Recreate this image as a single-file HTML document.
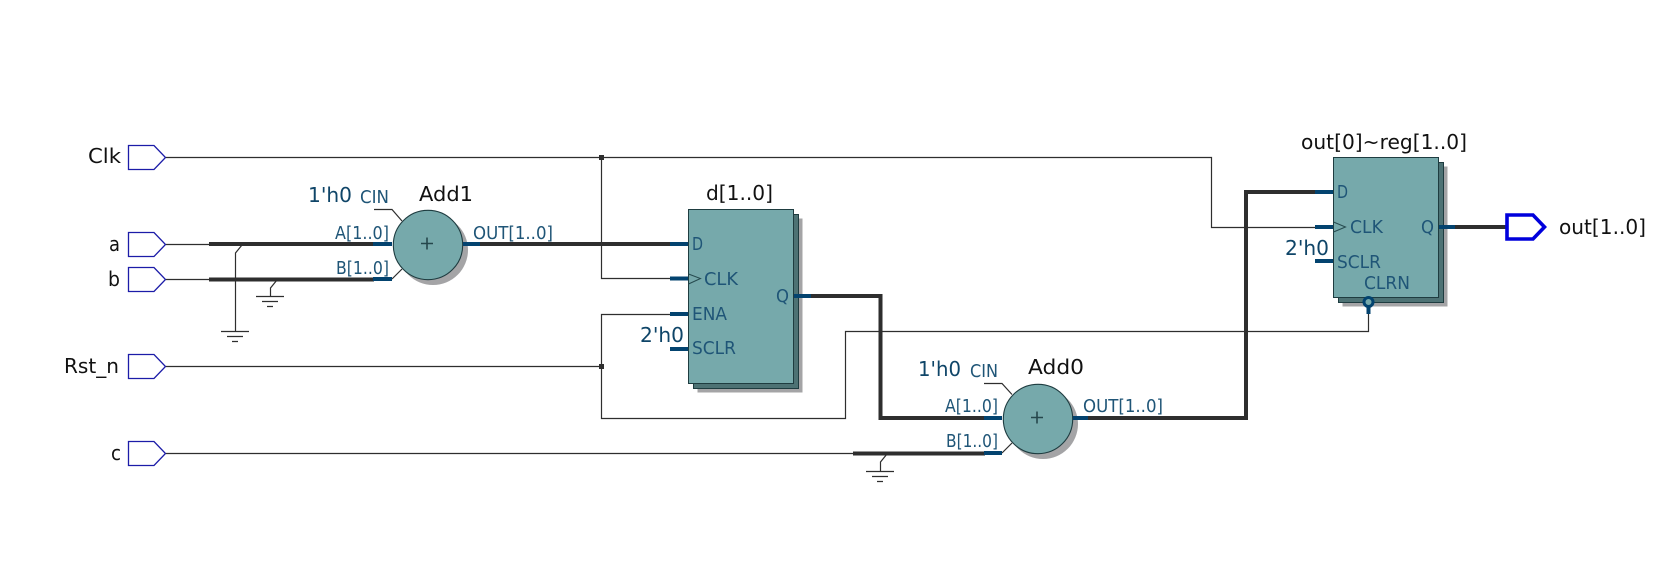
<!DOCTYPE html>
<html><head><meta charset="utf-8"><style>
html,body{margin:0;padding:0;background:#fff;width:1658px;height:569px;overflow:hidden}
svg{display:block}
text{font-family:"DejaVu Sans","Liberation Sans",sans-serif}
.k{fill:#111;font-size:20.5px}
.n{fill:#0f4568;font-size:20.5px}
.p{fill:#1f5577;font-size:17.5px}
.t{fill:none;stroke:#2e2e2e;stroke-width:1.2}
.b{fill:none;stroke:#2e2e2e;stroke-width:4}
.u{fill:none;stroke:#03436f;stroke-width:4}
.i{fill:#fff;stroke:#1c1ca8;stroke-width:1.3}
</style></head><body>
<svg width="1658" height="569" viewBox="0 0 1658 569" xmlns="http://www.w3.org/2000/svg">
<rect width="1658" height="569" fill="#fff"/>

<!-- input pins -->
<path class="i" d="M128.5 145.5H154L165.5 157.5L154 169.5H128.5Z"/>
<path class="i" d="M128.5 232.5H154L165.5 244.5L154 256.5H128.5Z"/>
<path class="i" d="M128.5 267.5H154L165.5 279.5L154 291.5H128.5Z"/>
<path class="i" d="M128.5 354.5H154L165.5 366.5L154 378.5H128.5Z"/>
<path class="i" d="M128.5 441.5H154L165.5 453.5L154 465.5H128.5Z"/>
<text class="k" x="88" y="163" textLength="33" lengthAdjust="spacingAndGlyphs">Clk</text>
<text class="k" x="109" y="251" textLength="11" lengthAdjust="spacingAndGlyphs">a</text>
<text class="k" x="108" y="286" textLength="12" lengthAdjust="spacingAndGlyphs">b</text>
<text class="k" x="64" y="373" textLength="55" lengthAdjust="spacingAndGlyphs">Rst_n</text>
<text class="k" x="111" y="460" textLength="10" lengthAdjust="spacingAndGlyphs">c</text>

<!-- thin wires -->
<path class="t" d="M166 157.5H1211.5V227.5H1315"/>
<path class="t" d="M601.5 157.5V278.5H670"/>
<path class="t" d="M166 366.5H601.5"/>
<path class="t" d="M670 314.5H601.5V418.5H845.5V331.5H1368.5V312"/>
<path class="t" d="M166 244.5H210M166 279.5H210M166 453.5H854"/>
<rect x="599" y="155" width="5" height="5" fill="#2e2e2e"/>
<rect x="599" y="364" width="5" height="5" fill="#2e2e2e"/>

<!-- thick wires -->
<path class="b" d="M209 244H374"/>
<path class="b" d="M209 279.5H374"/>
<path class="b" d="M480 244H671"/>
<path class="b" d="M811 296H880.5V418H985"/>
<path class="b" d="M853 453.5H985"/>
<path class="b" d="M1088 418H1246V192H1316"/>
<path class="b" d="M1455 227H1507"/>

<!-- grounds -->
<path class="t" d="M242 245L235.5 253V331.5M221 331.5H249M227 336.5H243M232 341.5H238"/>
<path class="t" d="M277 280L270.5 288V296.5M256 296.5H284M262 301.5H278M267 306.5H273"/>
<path class="t" d="M887 454L880.5 462V471.5M866 471.5H894M872 476.5H888M877 481.5H883"/>

<!-- Add1 -->
<circle cx="433" cy="250" r="35" fill="#a4a4a6"/>
<circle cx="428" cy="245" r="34.7" fill="#76a9ab" stroke="#1e3c40" stroke-width="1.1"/>
<path class="t" d="M374 209.5H392L402 221"/>
<path class="t" d="M392 279L402 269"/>
<path class="u" d="M373 244H392M373 279H392M463 244H480"/>
<path d="M421 243.5H433M427 237.5V249.5" stroke="#25474c" stroke-width="1.6" fill="none"/>
<text class="n" x="308" y="202" textLength="44" lengthAdjust="spacingAndGlyphs">1'h0</text>
<text class="p" x="360" y="203" textLength="29" lengthAdjust="spacingAndGlyphs">CIN</text>
<text class="k" x="419" y="201" textLength="54" lengthAdjust="spacingAndGlyphs">Add1</text>
<text class="p" x="335" y="239" textLength="54" lengthAdjust="spacingAndGlyphs">A[1..0]</text>
<text class="p" x="336" y="274" textLength="53" lengthAdjust="spacingAndGlyphs">B[1..0]</text>
<text class="p" x="473" y="239" textLength="80" lengthAdjust="spacingAndGlyphs">OUT[1..0]</text>

<!-- d block -->
<rect x="697.5" y="218.5" width="105" height="174" fill="#a4a4a6"/>
<rect x="693.5" y="214.5" width="105" height="174" fill="#4d7274" stroke="#1e3c40" stroke-width="1"/>
<rect x="688.5" y="209.5" width="105" height="174" fill="#76a9ab" stroke="#1e3c40" stroke-width="1"/>
<path class="u" d="M670 244H688M670 278.5H688M670 314H688M670 349H688M794 296H811"/>
<path d="M688.5 274L700.5 278.5L688.5 284" fill="none" stroke="#264a4e" stroke-width="1"/>
<text class="k" x="706" y="200" textLength="67" lengthAdjust="spacingAndGlyphs">d[1..0]</text>
<text class="p" x="692" y="250" textLength="11" lengthAdjust="spacingAndGlyphs">D</text>
<text class="p" x="704" y="285" textLength="34" lengthAdjust="spacingAndGlyphs">CLK</text>
<text class="p" x="692" y="320" textLength="35" lengthAdjust="spacingAndGlyphs">ENA</text>
<text class="p" x="692" y="354" textLength="44" lengthAdjust="spacingAndGlyphs">SCLR</text>
<text class="p" x="776" y="302" textLength="13" lengthAdjust="spacingAndGlyphs">Q</text>
<text class="n" x="640" y="342" textLength="44" lengthAdjust="spacingAndGlyphs">2'h0</text>

<!-- Add0 -->
<circle cx="1043" cy="424" r="35" fill="#a4a4a6"/>
<circle cx="1038" cy="419" r="34.7" fill="#76a9ab" stroke="#1e3c40" stroke-width="1.1"/>
<path class="t" d="M984 383.5H1002L1012 394.5"/>
<path class="t" d="M1002 453L1012 443"/>
<path class="u" d="M984 418H1002M984 453H1002M1073 418H1088"/>
<path d="M1031 417.5H1043M1037 411.5V423.5" stroke="#25474c" stroke-width="1.6" fill="none"/>
<text class="n" x="918" y="376" textLength="43" lengthAdjust="spacingAndGlyphs">1'h0</text>
<text class="p" x="970" y="377" textLength="28" lengthAdjust="spacingAndGlyphs">CIN</text>
<text class="k" x="1028" y="374" textLength="56" lengthAdjust="spacingAndGlyphs">Add0</text>
<text class="p" x="945" y="412" textLength="53" lengthAdjust="spacingAndGlyphs">A[1..0]</text>
<text class="p" x="946" y="447" textLength="52" lengthAdjust="spacingAndGlyphs">B[1..0]</text>
<text class="p" x="1083" y="412" textLength="80" lengthAdjust="spacingAndGlyphs">OUT[1..0]</text>

<!-- out reg block -->
<rect x="1342.5" y="166.5" width="105" height="140" fill="#a4a4a6"/>
<rect x="1338.5" y="162.5" width="105" height="140" fill="#4d7274" stroke="#1e3c40" stroke-width="1"/>
<rect x="1333.5" y="157.5" width="105" height="140" fill="#76a9ab" stroke="#1e3c40" stroke-width="1"/>
<path class="u" d="M1315 192H1333M1315 227H1333M1315 261H1333M1439 227H1455"/>
<path d="M1333.5 222L1345.5 227L1333.5 232" fill="none" stroke="#264a4e" stroke-width="1"/>
<circle cx="1368.5" cy="302" r="4.5" fill="#76a9ab" stroke="#03436f" stroke-width="3"/>
<path d="M1368.5 306V314" stroke="#03436f" stroke-width="4" fill="none"/>
<text class="k" x="1301" y="149" textLength="166" lengthAdjust="spacingAndGlyphs">out[0]~reg[1..0]</text>
<text class="p" x="1337" y="198" textLength="11" lengthAdjust="spacingAndGlyphs">D</text>
<text class="p" x="1350" y="233" textLength="33" lengthAdjust="spacingAndGlyphs">CLK</text>
<text class="p" x="1337" y="268" textLength="44" lengthAdjust="spacingAndGlyphs">SCLR</text>
<text class="p" x="1364" y="289" textLength="46" lengthAdjust="spacingAndGlyphs">CLRN</text>
<text class="p" x="1421" y="233" textLength="13" lengthAdjust="spacingAndGlyphs">Q</text>
<text class="n" x="1285" y="255" textLength="44" lengthAdjust="spacingAndGlyphs">2'h0</text>

<!-- output pin -->
<path d="M1507 215H1533L1544.5 227L1533 239H1507Z" fill="#fff" stroke="#0000dc" stroke-width="3.6"/>
<text class="k" x="1559" y="234" textLength="87" lengthAdjust="spacingAndGlyphs">out[1..0]</text>
</svg>
</body></html>
